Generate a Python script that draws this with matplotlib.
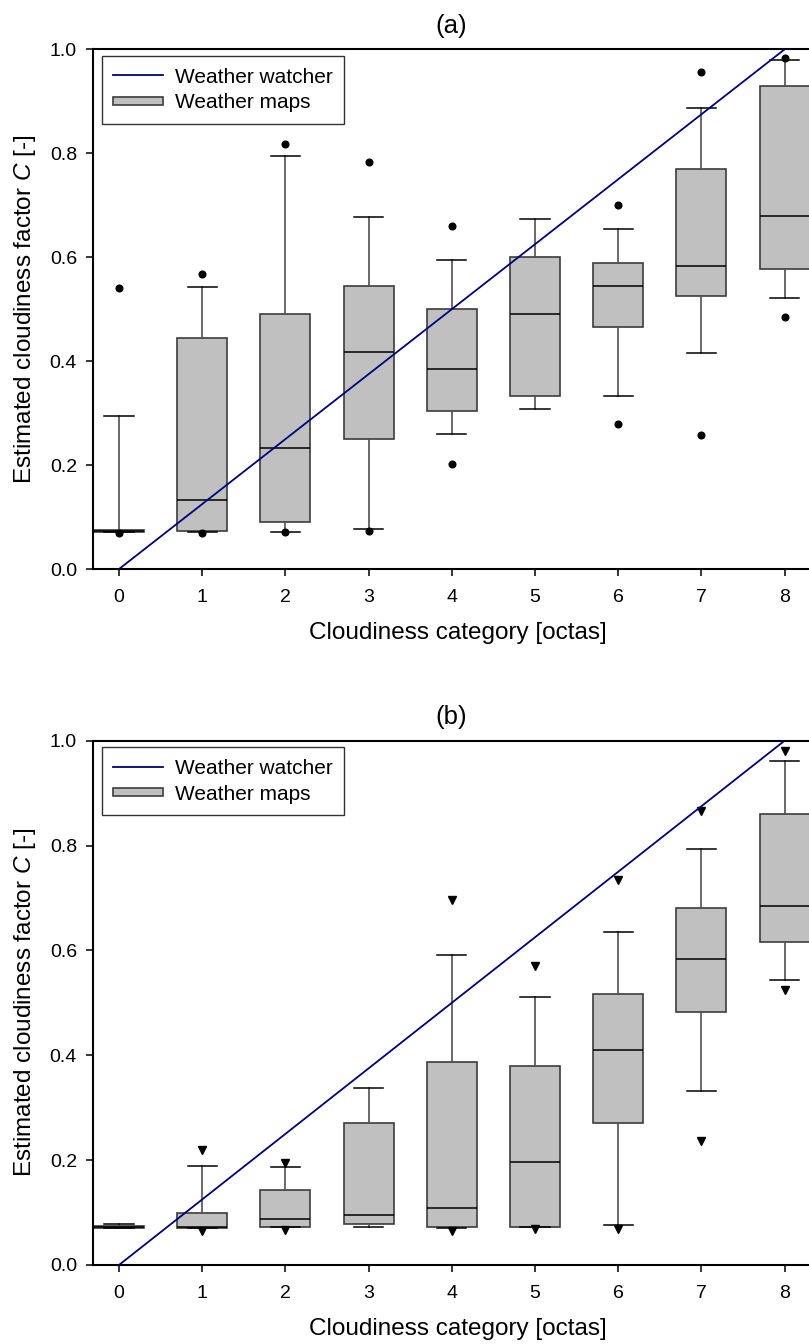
import matplotlib
matplotlib.use("Agg")
import matplotlib.pyplot as plt
import matplotlib.patches as mpatches
from matplotlib.lines import Line2D
from matplotlib.legend_handler import HandlerPatch
from matplotlib.ticker import FormatStrFormatter

plt.rcParams['font.family'] = 'Liberation Sans'
plt.rcParams['mathtext.fontset'] = 'custom'
plt.rcParams['mathtext.rm'] = 'Liberation Sans'
plt.rcParams['mathtext.it'] = 'Liberation Sans:italic'

octas = [0, 1, 2, 3, 4, 5, 6, 7, 8]

# (a) box statistics per cloudiness category, circles as outliers
a_whislo = [0.0715, 0.071, 0.072, 0.077, 0.260, 0.307, 0.333, 0.416, 0.522]
a_q1 = [0.0715, 0.0725, 0.091, 0.251, 0.305, 0.333, 0.466, 0.525, 0.577]
a_med = [0.073, 0.133, 0.232, 0.418, 0.384, 0.491, 0.544, 0.584, 0.680]
a_q3 = [0.0745, 0.444, 0.490, 0.544, 0.500, 0.600, 0.588, 0.770, 0.930]
a_whishi = [0.295, 0.542, 0.795, 0.677, 0.595, 0.673, 0.655, 0.887, 0.980]
a_fliers = [[0.541, 0.070], [0.568, 0.070], [0.817, 0.072], [0.783, 0.073],
            [0.661, 0.202], [], [0.700, 0.280], [0.957, 0.258], [0.983, 0.485]]

# (b) box statistics per cloudiness category, triangles as outliers
b_whislo = [0.070, 0.0702, 0.0726, 0.0726, 0.070, 0.0726, 0.076, 0.331, 0.544]
b_q1 = [0.0705, 0.0702, 0.0726, 0.0775, 0.0726, 0.0726, 0.270, 0.482, 0.616]
b_med = [0.0725, 0.0726, 0.087, 0.095, 0.109, 0.196, 0.410, 0.584, 0.684]
b_q3 = [0.0745, 0.099, 0.143, 0.271, 0.387, 0.379, 0.516, 0.681, 0.861]
b_whishi = [0.078, 0.188, 0.186, 0.337, 0.592, 0.512, 0.635, 0.794, 0.961]
b_fliers = [[], [0.220, 0.065], [0.194, 0.067], [], [0.696, 0.065],
            [0.571, 0.069], [0.735, 0.069], [0.865, 0.236], [0.981, 0.525]]

# weather watcher: C = octas / 8
watcher_x = [0, 8]
watcher_c = [0.0, 1.0]

BOX_FACE = '#c0c0c0'
EDGE = '#3c3c3c'
NAVY = '#00007f'


def make_stats(whislo, q1, med, q3, whishi, fliers):
    return [dict(whislo=lo, q1=a, med=m, q3=b, whishi=hi, fliers=f)
            for lo, a, m, b, hi, f in zip(whislo, q1, med, q3, whishi, fliers)]


def thin_box(legend, orig_handle, xdescent, ydescent, width, height, fontsize):
    h = 0.4 * fontsize
    return mpatches.Rectangle((-xdescent, -ydescent + height / 2 - h / 2), width, h)


fig = plt.figure(figsize=(8.09, 13.44), dpi=100)
ax_a = fig.add_axes([0.1153, 0.5766, 0.8847, 0.3867])
ax_b = fig.add_axes([0.1153, 0.0588, 0.8847, 0.3901])

panels = [
    (ax_a, '(a)', make_stats(a_whislo, a_q1, a_med, a_q3, a_whishi, a_fliers), 'o', 4.8),
    (ax_b, '(b)', make_stats(b_whislo, b_q1, b_med, b_q3, b_whishi, b_fliers), 'v', 5.5),
]

for ax, title, stats, mk, ms in panels:
    ax.bxp(stats, positions=octas, widths=0.6, capwidths=0.35,
           patch_artist=True, manage_ticks=False,
           boxprops=dict(facecolor=BOX_FACE, edgecolor=EDGE, linewidth=1.2),
           medianprops=dict(color='black', linewidth=1.1),
           whiskerprops=dict(color='#505050', linewidth=1.2),
           capprops=dict(color='black', linewidth=1.1),
           flierprops=dict(marker=mk, markerfacecolor='black',
                           markeredgecolor='black', markersize=ms, linestyle='none'))
    ax.plot(watcher_x, watcher_c, color=NAVY, linewidth=1.3, zorder=3)

    ax.set_xlim(-0.309, 8.293)
    ax.set_ylim(0, 1.0)
    ax.set_xticks(octas)
    ax.set_yticks([0.0, 0.2, 0.4, 0.6, 0.8, 1.0])
    ax.yaxis.set_major_formatter(FormatStrFormatter('%.1f'))
    ax.tick_params(axis='x', direction='out', length=4.8, width=1.1, labelsize=14, pad=9.5)
    ax.tick_params(axis='y', direction='out', length=4.8, width=1.1, labelsize=14, pad=7)
    ax.spines['right'].set_visible(False)
    for side in ['left', 'bottom', 'top']:
        ax.spines[side].set_linewidth(1.5)

    ax.set_title(title, fontsize=18.5, pad=12)
    ax.set_xlabel('Cloudiness category [octas]', fontsize=17.5)
    ax.set_ylabel('Estimated cloudiness factor $C$ [-]', fontsize=17.5)
    ax.xaxis.set_label_coords(0.509, -0.102)
    ax.yaxis.set_label_coords(-0.0773, 0.5)

    handles = [Line2D([], [], color=NAVY, linewidth=1.3),
               mpatches.Patch(facecolor=BOX_FACE, edgecolor=EDGE, linewidth=1.2)]
    leg = ax.legend(handles, ['Weather watcher', 'Weather maps'],
                    loc='upper left', bbox_to_anchor=(0.0117, 0.987),
                    borderaxespad=0, fontsize=15, handlelength=2.4,
                    handletextpad=0.55, borderpad=0.55, labelspacing=0.32,
                    fancybox=False, framealpha=1, edgecolor='#333333',
                    handler_map={mpatches.Patch: HandlerPatch(patch_func=thin_box)})
    leg.get_frame().set_linewidth(1.0)

fig.savefig('out.png', dpi=100)
